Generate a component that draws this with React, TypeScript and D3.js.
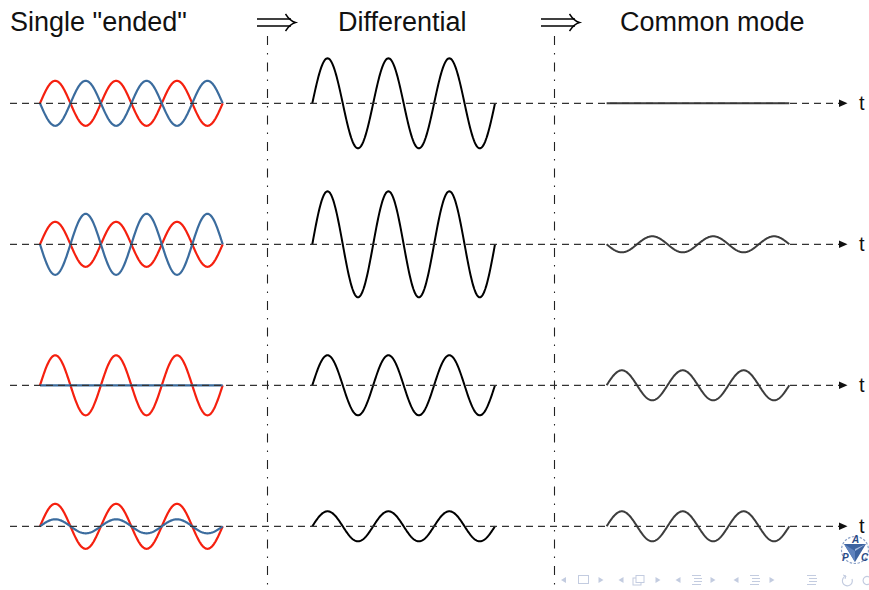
import React from "react";
import * as d3 from "d3";

// ---- data ----
const titles = ['Single "ended"', "Differential", "Common mode"];
const axisLabel = "t";
const cycles = 3;
const redAmp = [22.5, 22.5, 30, 22.5];
const blueAmp = [-22.5, -30.5, 0, 7];
const diffAmp = [45, 53, 30, 15];
const commonAmp = [0, -8, 15, 15];
const rowIndex = [0, 1, 2, 3];

const W = 869;
const H = 590;
const RED = "#f5200f";
const BLUE = "#3b6c9e";
const CM = "#3d3d3d";
const FONT = "'Liberation Sans', Arial, sans-serif";

const rowY = d3.scaleLinear().domain([0, 3]).range([103.3, 526.3]);
const panels = [
  d3.scaleLinear().domain([0, cycles]).range([40, 222.7]),
  d3.scaleLinear().domain([0, cycles]).range([312.3, 495]),
  d3.scaleLinear().domain([0, cycles]).range([606.6, 789.3]),
];
const samples = d3.range(0, 301).map((i) => (i / 300) * cycles);

function wavePath(x: d3.ScaleLinear<number, number>, row: number, amp: number) {
  const base = rowY(row);
  const y = d3.scaleLinear().domain([-100, 100]).range([base + 100, base - 100]);
  const line = d3
    .line<number>()
    .x((t) => x(t))
    .y((t) => y(amp * Math.sin(2 * Math.PI * t)));
  return line(samples) || "";
}

function DoubleArrow({ x }: { x: number }) {
  return (
    <g stroke="#000" strokeWidth={1.4} fill="none">
      <line x1={x} y1={19} x2={x + 34} y2={19} />
      <line x1={x} y1={26} x2={x + 34} y2={26} />
      <path d={`M${x + 28.5},14 Q${x + 33},21 ${x + 38.5},22.5 Q${x + 33},24 ${x + 28.5},31`} />
    </g>
  );
}

function NavIcons() {
  const c = "#c3cce0";
  const tri = (cx: number, dir: number) =>
    `M${cx + dir * 2.5},577 L${cx - dir * 2.5},580 L${cx + dir * 2.5},583 Z`;
  const bars = (x: number) => (
    <g stroke={c} strokeWidth={1}>
      <line x1={x} y1={575.5} x2={x + 9} y2={575.5} />
      <line x1={x + 2} y1={578.5} x2={x + 10} y2={578.5} />
      <line x1={x + 2} y1={581.5} x2={x + 10} y2={581.5} />
      <line x1={x} y1={584.5} x2={x + 9} y2={584.5} />
    </g>
  );
  return (
    <g>
      <path d={tri(563.5, 1)} fill={c} />
      <rect x={578.5} y={575.5} width={10} height={8} fill="none" stroke={c} strokeWidth={1} />
      <path d={tri(601, -1)} fill={c} />
      <path d={tri(621, 1)} fill={c} />
      <rect x={633} y={578} width={8} height={7} fill="#fff" stroke={c} strokeWidth={1} />
      <rect x={636} y={575.5} width={8} height={7} fill="#fff" stroke={c} strokeWidth={1} />
      <path d={tri(658, -1)} fill={c} />
      <path d={tri(678, 1)} fill={c} />
      {bars(692)}
      <path d={tri(713, -1)} fill={c} />
      <path d={tri(736, 1)} fill={c} />
      {bars(750)}
      <path d={tri(772, -1)} fill={c} />
      {bars(807)}
      <path d="M846,576 A5,5 0 1,0 852,579" fill="none" stroke={c} strokeWidth={1.2} />
      <path d="M843,575 L846,576 L845,579" fill="none" stroke={c} strokeWidth={1} />
      <path d="M869,577 A4,4 0 1,0 869,584" fill="none" stroke={c} strokeWidth={1.2} />
    </g>
  );
}

function Logo() {
  const cx = 855;
  const cy = 550;
  return (
    <g>
      <circle cx={cx} cy={cy} r={13.5} fill="none" stroke="#8da3c9" strokeWidth={1.2} strokeDasharray="2.5,1.5" />
      <path d={`M${cx - 11},${cy - 6} L${cx + 11},${cy - 6} L${cx},${cy + 12} Z`} fill="#3d63a0" />
      <path d={`M${cx - 11},${cy - 6} L${cx},${cy + 1} L${cx},${cy + 12} Z`} fill="#5f82bd" />
      <path d={`M${cx},${cy + 1} L${cx + 11},${cy - 6} L${cx},${cy - 1} Z`} fill="#a9bde0" />
      <text x={cx - 3} y={cy - 7} fontSize={10} fontStyle="italic" fontWeight="bold" fill="#2a4a86" fontFamily={FONT}>A</text>
      <text x={cx - 13} y={cy + 11} fontSize={10} fontStyle="italic" fontWeight="bold" fill="#2a4a86" fontFamily={FONT}>P</text>
      <text x={cx + 6} y={cy + 11} fontSize={10} fontStyle="italic" fontWeight="bold" fill="#2a4a86" fontFamily={FONT}>C</text>
    </g>
  );
}

export default function App() {
  return (
    <svg
      width={W}
      height={H}
      viewBox={`0 0 ${W} ${H}`}
      style={{ position: "absolute", left: 0, top: 0, background: "#fff" }}
    >
      {/* titles */}
      <text x={10} y={30.5} fontSize={27} fontFamily={FONT} fill="#111">{titles[0]}</text>
      <text x={338} y={30.5} fontSize={27} fontFamily={FONT} fill="#111">{titles[1]}</text>
      <text x={620} y={30.5} fontSize={27} fontFamily={FONT} fill="#111">{titles[2]}</text>
      <DoubleArrow x={257} />
      <DoubleArrow x={541} />

      {/* vertical separators */}
      {[267.5, 554.5].map((x) => (
        <line key={x} x1={x} y1={36} x2={x} y2={H} stroke="#222" strokeWidth={1.1} strokeDasharray="9,8,1.5,8" />
      ))}

      {rowIndex.map((r) => (
        <g key={r}>
          <path d={wavePath(panels[0], r, redAmp[r])} fill="none" stroke={RED} strokeWidth={2.2} />
          <path d={wavePath(panels[0], r, blueAmp[r])} fill="none" stroke={BLUE} strokeWidth={2.2} />
          <path d={wavePath(panels[1], r, diffAmp[r])} fill="none" stroke="#000" strokeWidth={2} />
          <path d={wavePath(panels[2], r, commonAmp[r])} fill="none" stroke={CM} strokeWidth={2} />
          <line x1={10} y1={rowY(r)} x2={840} y2={rowY(r)} stroke="#333" strokeWidth={1.3} strokeDasharray="7,5" />
          <path d={`M839,${rowY(r) - 3.8} L847.5,${rowY(r)} L839,${rowY(r) + 3.8} Z`} fill="#111" />
          <text x={859} y={rowY(r) + 7} fontSize={20} fontFamily={FONT} fill="#111">{axisLabel}</text>
        </g>
      ))}

      <Logo />
      <NavIcons />
    </svg>
  );
}
